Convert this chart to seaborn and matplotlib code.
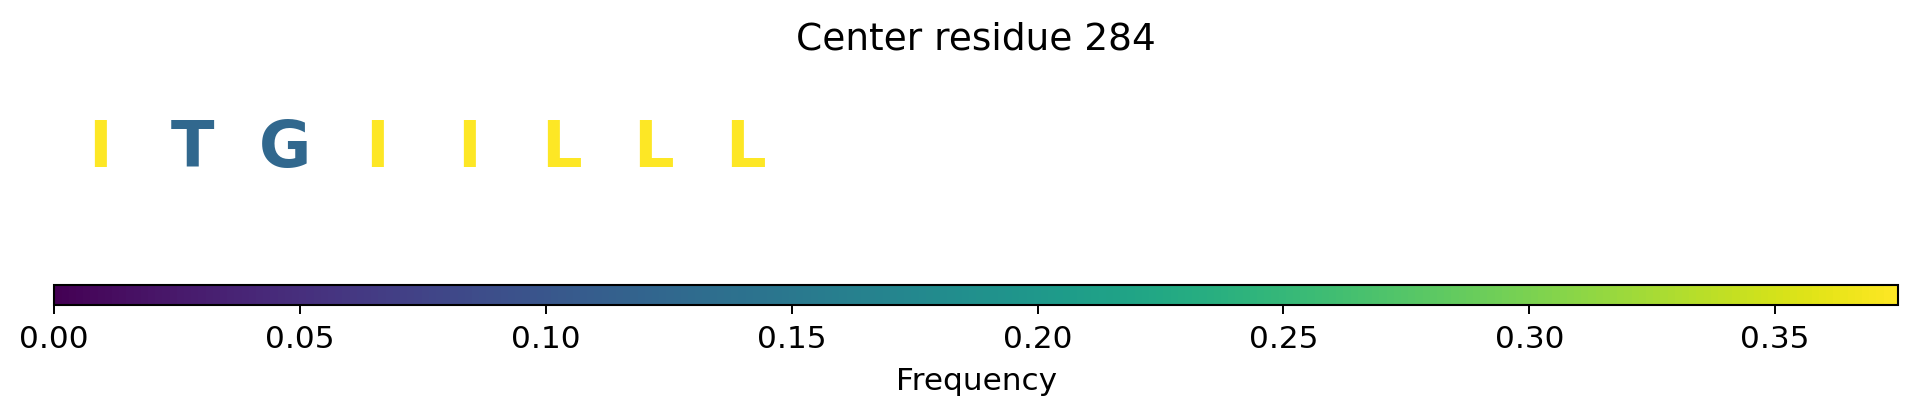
import matplotlib
matplotlib.use("Agg")
import matplotlib.pyplot as plt
import matplotlib.colors as mcolors
import matplotlib.cm as cm
import numpy as np
import seaborn as sns

# ---- data ----
title_text = "Center residue 284"
residues = ["I", "T", "G", "I", "I", "L", "L", "L"]
frequencies = [0.375, 0.125, 0.125, 0.375, 0.375, 0.375, 0.375, 0.375]
positions = [0, 1, 2, 3, 4, 5, 6, 7]
n_slots = 20
vmin, vmax = 0.0, 0.375
cbar_ticks = [0.00, 0.05, 0.10, 0.15, 0.20, 0.25, 0.30, 0.35]
cbar_label = "Frequency"

sns.set_style("white")
plt.rcParams["font.family"] = ["DejaVu Sans"]
plt.rcParams.update({"text.color": "black", "axes.labelcolor": "black",
                     "xtick.color": "black", "ytick.color": "black",
                     "axes.edgecolor": "black"})

W, H = 1917, 416
fig = plt.figure(figsize=(W / 100, H / 100), dpi=100)

cmap = sns.color_palette("viridis", as_cmap=True)
norm = mcolors.Normalize(vmin=vmin, vmax=vmax)

left_px, right_px = 54.3, 1898
# letters axes
ax = fig.add_axes([left_px / W, (H - 260) / H, (right_px - left_px) / W, 200 / H])
ax.set_xlim(-0.5, n_slots - 0.5)
ax.set_ylim(0, 1)
ax.axis("off")
for x, r, f in zip(positions, residues, frequencies):
    ax.text(x, 0.465, r, ha="center", va="baseline", fontsize=46,
            fontweight="bold", color=cmap(norm(f)))

# title
fig.text((left_px + right_px) / 2 / W, (H - 50) / H, title_text,
         ha="center", va="baseline", fontsize=27, color="black")

# colorbar
cax = fig.add_axes([left_px / W, (H - 304.7) / H, (right_px - left_px) / W, 20 / H])
sm = cm.ScalarMappable(norm=norm, cmap=cmap)
sm.set_array([])
cb = fig.colorbar(sm, cax=cax, orientation="horizontal", ticks=cbar_ticks)
cb.ax.set_xticklabels([f"{t:.2f}" for t in cbar_ticks])
cb.ax.tick_params(labelsize=22.4, length=6.3, width=1.4, pad=8,
                  color="black", labelcolor="black")
cb.outline.set_linewidth(1.5)
cb.outline.set_edgecolor("black")
cb.set_label(cbar_label, fontsize=22.4, labelpad=9.5, color="black")

fig.savefig("out.png", dpi=100)
